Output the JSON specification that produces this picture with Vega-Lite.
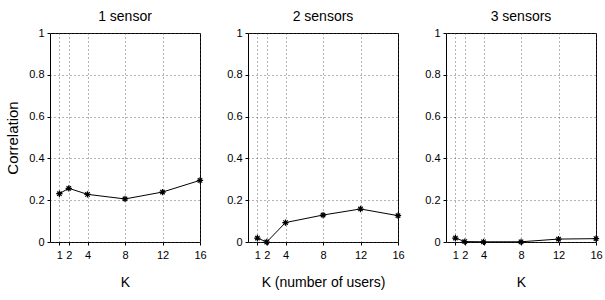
{
  "$schema": "https://vega.github.io/schema/vega-lite/v6.json",
  "background": "white",
  "padding": {"left": 5, "top": 9, "right": 5, "bottom": 5},
  "spacing": 48,
  "bounds": "flush",
  "datasets": {
    "s1": [{"K":1,"c":0.231},{"K":2,"c":0.257},{"K":4,"c":0.228},{"K":8,"c":0.206},{"K":12,"c":0.239},{"K":16,"c":0.295}],
    "s2": [{"K":1,"c":0.019},{"K":2,"c":0.0},{"K":4,"c":0.093},{"K":8,"c":0.129},{"K":12,"c":0.158},{"K":16,"c":0.126}],
    "s3": [{"K":1,"c":0.019},{"K":2,"c":0.002},{"K":4,"c":0.001},{"K":8,"c":0.001},{"K":12,"c":0.014},{"K":16,"c":0.016}]
  },
  "config": {
    "font": "Liberation Sans",
    "view": {"stroke": "black", "strokeWidth": 1},
    "axis": {
      "labelFont": "Liberation Sans", "labelFontSize": 11, "labelColor": "black",
      "titleFont": "Liberation Sans", "titleFontWeight": "normal", "titleColor": "black",
      "domain": false, "tickColor": "black", "tickSize": 3, "ticks": true,
      "grid": true, "gridColor": "#444", "gridDash": [1, 3], "gridWidth": 0.8
    },
    "title": {"font": "Liberation Sans", "fontSize": 14, "fontWeight": "normal", "color": "black", "offset": 3}
  },
  "hconcat": [
    {
      "title": "1 sensor",
      "width": 150, "height": 209,
      "data": {"name": "s1"},
      "layer": [
        {"mark": {"type": "line", "color": "black", "strokeWidth": 1}, "encoding": {}},
        {"mark": {"type": "point", "shape": "M-1,0L1,0M0,-1L0,1M-0.7,-0.7L0.7,0.7M-0.7,0.7L0.7,-0.7", "filled": false, "stroke": "black", "strokeWidth": 1.2, "size": 40, "opacity": 1}, "encoding": {}}
      ],
      "encoding": {
        "x": {"field": "K", "type": "quantitative", "scale": {"domain": [0, 16], "nice": false}, "axis": {"values": [1,2,4,8,12,16], "title": "K", "titleFontSize": 14, "titlePadding": 15, "labelPadding": 4, "labelFlush": false}},
        "y": {"field": "c", "type": "quantitative", "scale": {"domain": [0, 1], "nice": false}, "axis": {"values": [0,0.2,0.4,0.6,0.8,1], "format": "~g", "title": "Correlation", "titleFontSize": 15, "titlePadding": 8, "labelPadding": 3, "labelFlush": false}}
      }
    },
    {
      "title": "2 sensors",
      "width": 150, "height": 209,
      "data": {"name": "s2"},
      "layer": [
        {"mark": {"type": "line", "color": "black", "strokeWidth": 1}, "encoding": {}},
        {"mark": {"type": "point", "shape": "M-1,0L1,0M0,-1L0,1M-0.7,-0.7L0.7,0.7M-0.7,0.7L0.7,-0.7", "filled": false, "stroke": "black", "strokeWidth": 1.2, "size": 40, "opacity": 1}, "encoding": {}}
      ],
      "encoding": {
        "x": {"field": "K", "type": "quantitative", "scale": {"domain": [0, 16], "nice": false}, "axis": {"values": [1,2,4,8,12,16], "title": "K (number of users)", "titleFontSize": 14, "titlePadding": 15, "labelPadding": 4, "labelFlush": false}},
        "y": {"field": "c", "type": "quantitative", "scale": {"domain": [0, 1], "nice": false}, "axis": {"values": [0,0.2,0.4,0.6,0.8,1], "format": "~g", "title": null, "labelPadding": 3, "labelFlush": false}}
      }
    },
    {
      "title": "3 sensors",
      "width": 150, "height": 209,
      "data": {"name": "s3"},
      "layer": [
        {"mark": {"type": "line", "color": "black", "strokeWidth": 1}, "encoding": {}},
        {"mark": {"type": "point", "shape": "M-1,0L1,0M0,-1L0,1M-0.7,-0.7L0.7,0.7M-0.7,0.7L0.7,-0.7", "filled": false, "stroke": "black", "strokeWidth": 1.2, "size": 40, "opacity": 1}, "encoding": {}}
      ],
      "encoding": {
        "x": {"field": "K", "type": "quantitative", "scale": {"domain": [0, 16], "nice": false}, "axis": {"values": [1,2,4,8,12,16], "title": "K", "titleFontSize": 14, "titlePadding": 15, "labelPadding": 4, "labelFlush": false}},
        "y": {"field": "c", "type": "quantitative", "scale": {"domain": [0, 1], "nice": false}, "axis": {"values": [0,0.2,0.4,0.6,0.8,1], "format": "~g", "title": null, "labelPadding": 3, "labelFlush": false}}
      }
    }
  ]
}
